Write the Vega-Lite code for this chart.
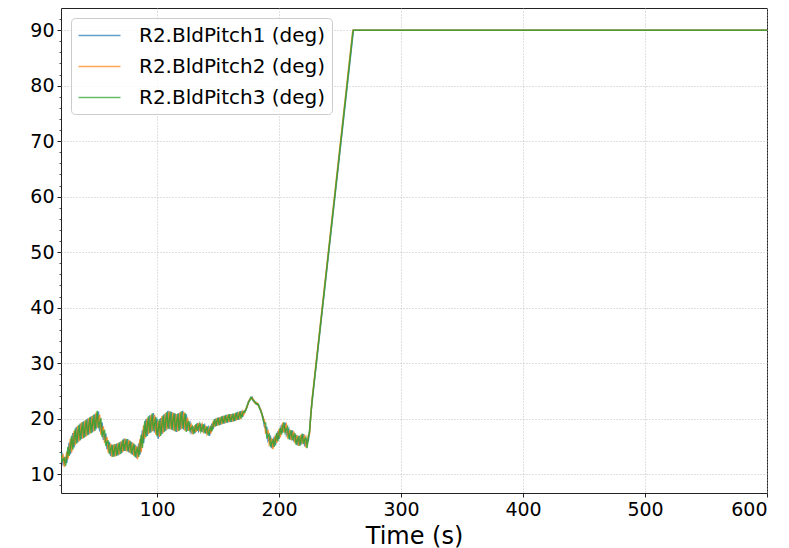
{
  "$schema": "https://vega.github.io/schema/vega-lite/v6.json",
  "width": 706,
  "height": 485,
  "autosize": {"type": "none"},
  "padding": {"left": 61, "top": 8, "right": 22, "bottom": 55},
  "background": "white",
  "config": {
    "font": "DejaVu Sans",
    "view": {"stroke": "#222222", "strokeWidth": 1},
    "axis": {
      "labelFont": "DejaVu Sans",
      "labelFontSize": 19,
      "labelColor": "#000000",
      "tickColor": "#222222",
      "tickSize": 4,
      "tickWidth": 1,
      "labelPadding": 3,
      "domain": false,
      "gridColor": "#b0b0b0",
      "gridDash": [1, 2],
      "gridWidth": 0.8
    },
    "legend": {
      "labelFont": "DejaVu Sans",
      "labelFontSize": 20,
      "labelColor": "#000000"
    }
  },
  "data": {
    "values": [
      {"t":21,"BldPitch1":13.0,"BldPitch2":12.2,"BldPitch3":13.8},
      {"t":22,"BldPitch1":13.9,"BldPitch2":13.1,"BldPitch3":12.3},
      {"t":23,"BldPitch1":11.8,"BldPitch2":13.4,"BldPitch3":12.6},
      {"t":24,"BldPitch1":12.1,"BldPitch2":11.3,"BldPitch3":12.9},
      {"t":25,"BldPitch1":13.1,"BldPitch2":12.3,"BldPitch3":11.5},
      {"t":26,"BldPitch1":12.0,"BldPitch2":14.0,"BldPitch3":13.0},
      {"t":27,"BldPitch1":13.8,"BldPitch2":12.7,"BldPitch3":14.9},
      {"t":28,"BldPitch1":15.7,"BldPitch2":14.5,"BldPitch3":13.3},
      {"t":29,"BldPitch1":13.6,"BldPitch2":16.4,"BldPitch3":15.0},
      {"t":30,"BldPitch1":15.4,"BldPitch2":13.9,"BldPitch3":16.9},
      {"t":31,"BldPitch1":17.4,"BldPitch2":15.9,"BldPitch3":14.4},
      {"t":32,"BldPitch1":14.8,"BldPitch2":17.8,"BldPitch3":16.3},
      {"t":33,"BldPitch1":16.7,"BldPitch2":15.2,"BldPitch3":18.2},
      {"t":34,"BldPitch1":18.5,"BldPitch2":17.0,"BldPitch3":15.5},
      {"t":35,"BldPitch1":15.7,"BldPitch2":18.7,"BldPitch3":17.2},
      {"t":36,"BldPitch1":17.4,"BldPitch2":15.9,"BldPitch3":18.9},
      {"t":37,"BldPitch1":19.1,"BldPitch2":17.6,"BldPitch3":16.1},
      {"t":38,"BldPitch1":16.3,"BldPitch2":19.3,"BldPitch3":17.8},
      {"t":39,"BldPitch1":17.9,"BldPitch2":16.4,"BldPitch3":19.4},
      {"t":40,"BldPitch1":19.5,"BldPitch2":18.0,"BldPitch3":16.5},
      {"t":41,"BldPitch1":16.7,"BldPitch2":19.7,"BldPitch3":18.2},
      {"t":42,"BldPitch1":18.3,"BldPitch2":16.8,"BldPitch3":19.8},
      {"t":43,"BldPitch1":20.0,"BldPitch2":18.5,"BldPitch3":17.0},
      {"t":44,"BldPitch1":17.1,"BldPitch2":20.1,"BldPitch3":18.6},
      {"t":45,"BldPitch1":18.8,"BldPitch2":17.3,"BldPitch3":20.3},
      {"t":46,"BldPitch1":20.4,"BldPitch2":18.9,"BldPitch3":17.4},
      {"t":47,"BldPitch1":17.5,"BldPitch2":20.5,"BldPitch3":19.0},
      {"t":48,"BldPitch1":19.2,"BldPitch2":17.7,"BldPitch3":20.7},
      {"t":49,"BldPitch1":20.8,"BldPitch2":19.3,"BldPitch3":17.8},
      {"t":50,"BldPitch1":18.1,"BldPitch2":21.1,"BldPitch3":19.6},
      {"t":51,"BldPitch1":19.9,"BldPitch2":18.4,"BldPitch3":21.4},
      {"t":52,"BldPitch1":21.3,"BldPitch2":19.8,"BldPitch3":18.3},
      {"t":53,"BldPitch1":17.7,"BldPitch2":20.7,"BldPitch3":19.2},
      {"t":54,"BldPitch1":18.6,"BldPitch2":17.1,"BldPitch3":20.1},
      {"t":55,"BldPitch1":19.3,"BldPitch2":18.0,"BldPitch3":16.7},
      {"t":56,"BldPitch1":16.2,"BldPitch2":18.6,"BldPitch3":17.4},
      {"t":57,"BldPitch1":16.8,"BldPitch2":15.6,"BldPitch3":18.0},
      {"t":58,"BldPitch1":17.3,"BldPitch2":16.2,"BldPitch3":15.1},
      {"t":59,"BldPitch1":14.5,"BldPitch2":16.7,"BldPitch3":15.6},
      {"t":60,"BldPitch1":15.0,"BldPitch2":13.9,"BldPitch3":16.1},
      {"t":61,"BldPitch1":15.8,"BldPitch2":14.7,"BldPitch3":13.6},
      {"t":62,"BldPitch1":13.3,"BldPitch2":15.5,"BldPitch3":14.4},
      {"t":63,"BldPitch1":14.2,"BldPitch2":13.1,"BldPitch3":15.3},
      {"t":64,"BldPitch1":15.3,"BldPitch2":14.2,"BldPitch3":13.1},
      {"t":65,"BldPitch1":13.2,"BldPitch2":15.4,"BldPitch3":14.3},
      {"t":66,"BldPitch1":14.3,"BldPitch2":13.2,"BldPitch3":15.4},
      {"t":67,"BldPitch1":15.5,"BldPitch2":14.4,"BldPitch3":13.3},
      {"t":68,"BldPitch1":13.4,"BldPitch2":15.6,"BldPitch3":14.5},
      {"t":69,"BldPitch1":14.6,"BldPitch2":13.5,"BldPitch3":15.7},
      {"t":70,"BldPitch1":15.8,"BldPitch2":14.7,"BldPitch3":13.6},
      {"t":71,"BldPitch1":13.8,"BldPitch2":16.0,"BldPitch3":14.9},
      {"t":72,"BldPitch1":15.1,"BldPitch2":14.0,"BldPitch3":16.2},
      {"t":73,"BldPitch1":16.4,"BldPitch2":15.3,"BldPitch3":14.2},
      {"t":74,"BldPitch1":14.2,"BldPitch2":16.4,"BldPitch3":15.3},
      {"t":75,"BldPitch1":15.2,"BldPitch2":14.1,"BldPitch3":16.3},
      {"t":76,"BldPitch1":16.3,"BldPitch2":15.2,"BldPitch3":14.1},
      {"t":77,"BldPitch1":13.9,"BldPitch2":16.1,"BldPitch3":15.0},
      {"t":78,"BldPitch1":14.9,"BldPitch2":13.8,"BldPitch3":16.0},
      {"t":79,"BldPitch1":15.8,"BldPitch2":14.7,"BldPitch3":13.6},
      {"t":80,"BldPitch1":13.5,"BldPitch2":15.7,"BldPitch3":14.6},
      {"t":81,"BldPitch1":14.4,"BldPitch2":13.3,"BldPitch3":15.5},
      {"t":82,"BldPitch1":15.3,"BldPitch2":14.2,"BldPitch3":13.1},
      {"t":83,"BldPitch1":12.9,"BldPitch2":15.1,"BldPitch3":14.0},
      {"t":84,"BldPitch1":13.8,"BldPitch2":12.7,"BldPitch3":14.9},
      {"t":85,"BldPitch1":15.5,"BldPitch2":14.3,"BldPitch3":13.1},
      {"t":86,"BldPitch1":13.5,"BldPitch2":16.3,"BldPitch3":14.9},
      {"t":87,"BldPitch1":15.5,"BldPitch2":13.9,"BldPitch3":17.1},
      {"t":88,"BldPitch1":17.9,"BldPitch2":16.3,"BldPitch3":14.7},
      {"t":89,"BldPitch1":15.6,"BldPitch2":18.8,"BldPitch3":17.2},
      {"t":90,"BldPitch1":18.0,"BldPitch2":16.4,"BldPitch3":19.6},
      {"t":91,"BldPitch1":19.9,"BldPitch2":18.3,"BldPitch3":16.7},
      {"t":92,"BldPitch1":16.9,"BldPitch2":20.1,"BldPitch3":18.5},
      {"t":93,"BldPitch1":18.8,"BldPitch2":17.2,"BldPitch3":20.4},
      {"t":94,"BldPitch1":20.6,"BldPitch2":19.0,"BldPitch3":17.4},
      {"t":95,"BldPitch1":17.5,"BldPitch2":20.7,"BldPitch3":19.1},
      {"t":96,"BldPitch1":19.3,"BldPitch2":17.7,"BldPitch3":20.9},
      {"t":97,"BldPitch1":21.0,"BldPitch2":19.4,"BldPitch3":17.8},
      {"t":98,"BldPitch1":17.5,"BldPitch2":20.7,"BldPitch3":19.1},
      {"t":99,"BldPitch1":18.7,"BldPitch2":17.1,"BldPitch3":20.3},
      {"t":100,"BldPitch1":20.0,"BldPitch2":18.4,"BldPitch3":16.8},
      {"t":101,"BldPitch1":16.4,"BldPitch2":19.6,"BldPitch3":18.0},
      {"t":102,"BldPitch1":18.3,"BldPitch2":16.7,"BldPitch3":19.9},
      {"t":103,"BldPitch1":20.1,"BldPitch2":18.5,"BldPitch3":16.9},
      {"t":104,"BldPitch1":17.2,"BldPitch2":20.4,"BldPitch3":18.8},
      {"t":105,"BldPitch1":19.0,"BldPitch2":17.4,"BldPitch3":20.6},
      {"t":106,"BldPitch1":20.8,"BldPitch2":19.2,"BldPitch3":17.6},
      {"t":107,"BldPitch1":17.8,"BldPitch2":21.0,"BldPitch3":19.4},
      {"t":108,"BldPitch1":19.6,"BldPitch2":18.0,"BldPitch3":21.2},
      {"t":109,"BldPitch1":21.4,"BldPitch2":19.8,"BldPitch3":18.2},
      {"t":110,"BldPitch1":18.1,"BldPitch2":21.3,"BldPitch3":19.7},
      {"t":111,"BldPitch1":19.7,"BldPitch2":18.1,"BldPitch3":21.3},
      {"t":112,"BldPitch1":21.2,"BldPitch2":19.6,"BldPitch3":18.0},
      {"t":113,"BldPitch1":17.9,"BldPitch2":21.1,"BldPitch3":19.5},
      {"t":114,"BldPitch1":19.4,"BldPitch2":17.8,"BldPitch3":21.0},
      {"t":115,"BldPitch1":20.9,"BldPitch2":19.3,"BldPitch3":17.7},
      {"t":116,"BldPitch1":17.6,"BldPitch2":20.8,"BldPitch3":19.2},
      {"t":117,"BldPitch1":19.3,"BldPitch2":17.7,"BldPitch3":20.9},
      {"t":118,"BldPitch1":21.0,"BldPitch2":19.4,"BldPitch3":17.8},
      {"t":119,"BldPitch1":18.0,"BldPitch2":21.2,"BldPitch3":19.6},
      {"t":120,"BldPitch1":19.7,"BldPitch2":18.1,"BldPitch3":21.3},
      {"t":121,"BldPitch1":21.4,"BldPitch2":19.8,"BldPitch3":18.2},
      {"t":122,"BldPitch1":18.0,"BldPitch2":21.2,"BldPitch3":19.6},
      {"t":123,"BldPitch1":19.4,"BldPitch2":17.8,"BldPitch3":21.0},
      {"t":124,"BldPitch1":20.8,"BldPitch2":19.2,"BldPitch3":17.6},
      {"t":125,"BldPitch1":17.8,"BldPitch2":20.2,"BldPitch3":19.0},
      {"t":126,"BldPitch1":18.7,"BldPitch2":17.8,"BldPitch3":19.6},
      {"t":127,"BldPitch1":19.2,"BldPitch2":18.5,"BldPitch3":17.8},
      {"t":128,"BldPitch1":17.5,"BldPitch2":18.9,"BldPitch3":18.2},
      {"t":129,"BldPitch1":17.9,"BldPitch2":17.2,"BldPitch3":18.6},
      {"t":130,"BldPitch1":18.6,"BldPitch2":17.9,"BldPitch3":17.2},
      {"t":131,"BldPitch1":17.4,"BldPitch2":18.8,"BldPitch3":18.1},
      {"t":132,"BldPitch1":18.3,"BldPitch2":17.6,"BldPitch3":19.0},
      {"t":133,"BldPitch1":19.2,"BldPitch2":18.5,"BldPitch3":17.8},
      {"t":134,"BldPitch1":17.8,"BldPitch2":19.2,"BldPitch3":18.5},
      {"t":135,"BldPitch1":18.4,"BldPitch2":17.7,"BldPitch3":19.1},
      {"t":136,"BldPitch1":19.1,"BldPitch2":18.4,"BldPitch3":17.7},
      {"t":137,"BldPitch1":17.6,"BldPitch2":19.0,"BldPitch3":18.3},
      {"t":138,"BldPitch1":18.3,"BldPitch2":17.6,"BldPitch3":19.0},
      {"t":139,"BldPitch1":18.8,"BldPitch2":18.1,"BldPitch3":17.4},
      {"t":140,"BldPitch1":17.3,"BldPitch2":18.7,"BldPitch3":18.0},
      {"t":141,"BldPitch1":17.9,"BldPitch2":17.2,"BldPitch3":18.6},
      {"t":142,"BldPitch1":18.4,"BldPitch2":17.7,"BldPitch3":17.0},
      {"t":143,"BldPitch1":16.9,"BldPitch2":18.3,"BldPitch3":17.6},
      {"t":144,"BldPitch1":18.0,"BldPitch2":17.3,"BldPitch3":18.7},
      {"t":145,"BldPitch1":19.1,"BldPitch2":18.4,"BldPitch3":17.7},
      {"t":146,"BldPitch1":18.1,"BldPitch2":19.5,"BldPitch3":18.8},
      {"t":147,"BldPitch1":19.2,"BldPitch2":18.5,"BldPitch3":19.9},
      {"t":148,"BldPitch1":20.0,"BldPitch2":19.3,"BldPitch3":18.6},
      {"t":149,"BldPitch1":18.7,"BldPitch2":20.1,"BldPitch3":19.4},
      {"t":150,"BldPitch1":19.5,"BldPitch2":18.8,"BldPitch3":20.2},
      {"t":151,"BldPitch1":20.2,"BldPitch2":19.5,"BldPitch3":18.8},
      {"t":152,"BldPitch1":18.9,"BldPitch2":20.3,"BldPitch3":19.6},
      {"t":153,"BldPitch1":19.7,"BldPitch2":19.0,"BldPitch3":20.4},
      {"t":154,"BldPitch1":20.5,"BldPitch2":19.8,"BldPitch3":19.1},
      {"t":155,"BldPitch1":19.1,"BldPitch2":20.5,"BldPitch3":19.8},
      {"t":156,"BldPitch1":19.9,"BldPitch2":19.2,"BldPitch3":20.6},
      {"t":157,"BldPitch1":20.7,"BldPitch2":20.0,"BldPitch3":19.3},
      {"t":158,"BldPitch1":19.3,"BldPitch2":20.7,"BldPitch3":20.0},
      {"t":159,"BldPitch1":20.1,"BldPitch2":19.4,"BldPitch3":20.8},
      {"t":160,"BldPitch1":20.8,"BldPitch2":20.1,"BldPitch3":19.4},
      {"t":161,"BldPitch1":19.4,"BldPitch2":20.8,"BldPitch3":20.1},
      {"t":162,"BldPitch1":20.2,"BldPitch2":19.5,"BldPitch3":20.9},
      {"t":163,"BldPitch1":20.9,"BldPitch2":20.2,"BldPitch3":19.5},
      {"t":164,"BldPitch1":19.6,"BldPitch2":21.0,"BldPitch3":20.3},
      {"t":165,"BldPitch1":20.4,"BldPitch2":19.7,"BldPitch3":21.1},
      {"t":166,"BldPitch1":21.2,"BldPitch2":20.5,"BldPitch3":19.8},
      {"t":167,"BldPitch1":19.8,"BldPitch2":21.2,"BldPitch3":20.5},
      {"t":168,"BldPitch1":20.6,"BldPitch2":19.9,"BldPitch3":21.3},
      {"t":169,"BldPitch1":21.4,"BldPitch2":20.7,"BldPitch3":20.0},
      {"t":170,"BldPitch1":20.3,"BldPitch2":21.3,"BldPitch3":20.8},
      {"t":171,"BldPitch1":21.0,"BldPitch2":20.7,"BldPitch3":21.3},
      {"t":172,"BldPitch1":21.45,"BldPitch2":21.3,"BldPitch3":21.15},
      {"t":173,"BldPitch1":21.55,"BldPitch2":21.85,"BldPitch3":21.7},
      {"t":174,"BldPitch1":22.3,"BldPitch2":22.15,"BldPitch3":22.45},
      {"t":175,"BldPitch1":23.15,"BldPitch2":23.0,"BldPitch3":22.85},
      {"t":176,"BldPitch1":23.25,"BldPitch2":23.55,"BldPitch3":23.4},
      {"t":177,"BldPitch1":23.7,"BldPitch2":23.55,"BldPitch3":23.85},
      {"t":178,"BldPitch1":23.85,"BldPitch2":23.7,"BldPitch3":23.55},
      {"t":179,"BldPitch1":23.15,"BldPitch2":23.45,"BldPitch3":23.3},
      {"t":180,"BldPitch1":23.0,"BldPitch2":22.85,"BldPitch3":23.15},
      {"t":181,"BldPitch1":22.95,"BldPitch2":22.8,"BldPitch3":22.65},
      {"t":182,"BldPitch1":22.55,"BldPitch2":22.85,"BldPitch3":22.7},
      {"t":183,"BldPitch1":22.5,"BldPitch2":22.35,"BldPitch3":22.65},
      {"t":184,"BldPitch1":22.15,"BldPitch2":22.0,"BldPitch3":21.85},
      {"t":185,"BldPitch1":21.35,"BldPitch2":21.65,"BldPitch3":21.5},
      {"t":186,"BldPitch1":20.8,"BldPitch2":20.65,"BldPitch3":20.95},
      {"t":187,"BldPitch1":20.3,"BldPitch2":20.0,"BldPitch3":19.7},
      {"t":188,"BldPitch1":18.6,"BldPitch2":19.8,"BldPitch3":19.2},
      {"t":189,"BldPitch1":18.3,"BldPitch2":17.4,"BldPitch3":19.2},
      {"t":190,"BldPitch1":18.4,"BldPitch2":17.5,"BldPitch3":16.6},
      {"t":191,"BldPitch1":16.0,"BldPitch2":17.8,"BldPitch3":16.9},
      {"t":192,"BldPitch1":16.3,"BldPitch2":15.4,"BldPitch3":17.2},
      {"t":193,"BldPitch1":16.7,"BldPitch2":15.8,"BldPitch3":14.9},
      {"t":194,"BldPitch1":14.7,"BldPitch2":16.5,"BldPitch3":15.6},
      {"t":195,"BldPitch1":15.4,"BldPitch2":14.5,"BldPitch3":16.3},
      {"t":196,"BldPitch1":16.7,"BldPitch2":15.8,"BldPitch3":14.9},
      {"t":197,"BldPitch1":15.2,"BldPitch2":17.0,"BldPitch3":16.1},
      {"t":198,"BldPitch1":16.5,"BldPitch2":15.6,"BldPitch3":17.4},
      {"t":199,"BldPitch1":17.7,"BldPitch2":16.8,"BldPitch3":15.9},
      {"t":200,"BldPitch1":16.3,"BldPitch2":18.1,"BldPitch3":17.2},
      {"t":201,"BldPitch1":17.5,"BldPitch2":16.6,"BldPitch3":18.4},
      {"t":202,"BldPitch1":18.9,"BldPitch2":18.0,"BldPitch3":17.1},
      {"t":203,"BldPitch1":17.5,"BldPitch2":19.3,"BldPitch3":18.4},
      {"t":204,"BldPitch1":18.4,"BldPitch2":17.5,"BldPitch3":19.3},
      {"t":205,"BldPitch1":19.3,"BldPitch2":18.4,"BldPitch3":17.5},
      {"t":206,"BldPitch1":17.1,"BldPitch2":18.9,"BldPitch3":18.0},
      {"t":207,"BldPitch1":17.6,"BldPitch2":16.7,"BldPitch3":18.5},
      {"t":208,"BldPitch1":18.1,"BldPitch2":17.2,"BldPitch3":16.3},
      {"t":209,"BldPitch1":16.2,"BldPitch2":18.0,"BldPitch3":17.1},
      {"t":210,"BldPitch1":17.0,"BldPitch2":16.1,"BldPitch3":17.9},
      {"t":211,"BldPitch1":17.9,"BldPitch2":17.0,"BldPitch3":16.1},
      {"t":212,"BldPitch1":15.9,"BldPitch2":17.7,"BldPitch3":16.8},
      {"t":213,"BldPitch1":16.5,"BldPitch2":15.6,"BldPitch3":17.4},
      {"t":214,"BldPitch1":17.1,"BldPitch2":16.2,"BldPitch3":15.3},
      {"t":215,"BldPitch1":15.2,"BldPitch2":17.0,"BldPitch3":16.1},
      {"t":216,"BldPitch1":16.0,"BldPitch2":15.1,"BldPitch3":16.9},
      {"t":217,"BldPitch1":16.9,"BldPitch2":16.0,"BldPitch3":15.1},
      {"t":218,"BldPitch1":15.3,"BldPitch2":17.1,"BldPitch3":16.2},
      {"t":219,"BldPitch1":16.4,"BldPitch2":15.5,"BldPitch3":17.3},
      {"t":220,"BldPitch1":17.2,"BldPitch2":16.3,"BldPitch3":15.4},
      {"t":221,"BldPitch1":15.3,"BldPitch2":17.1,"BldPitch3":16.2},
      {"t":222,"BldPitch1":15.7,"BldPitch2":14.8,"BldPitch3":16.6},
      {"t":223,"BldPitch1":16.3,"BldPitch2":15.5,"BldPitch3":14.7},
      {"t":224,"BldPitch1":16.0,"BldPitch2":17.0,"BldPitch3":16.5},
      {"t":225,"BldPitch1":17.5,"BldPitch2":17.2,"BldPitch3":17.8},
      {"t":226,"BldPitch1":20.7,"BldPitch2":20.5,"BldPitch3":20.3},
      {"t":227,"BldPitch1":22.8,"BldPitch2":23.3,"BldPitch3":23.0},
      {"t":260.5,"BldPitch1":89.0,"BldPitch2":90.0,"BldPitch3":89.5},
      {"t":261,"BldPitch1":90.0,"BldPitch2":90.0,"BldPitch3":90.0},
      {"t":600,"BldPitch1":90.0,"BldPitch2":90.0,"BldPitch3":90.0}
    ]
  },
  "transform": [
    {"fold": ["BldPitch1", "BldPitch2", "BldPitch3"], "as": ["series", "value"]}
  ],
  "layer": [
    {
      "mark": {"type": "line", "strokeWidth": 1.5, "opacity": 0.8, "clip": true},
      "encoding": {
        "x": {
          "field": "t",
          "type": "quantitative",
          "scale": {"domain": [21.3, 600], "nice": false, "zero": false},
          "axis": {
            "values": [100, 200, 300, 400, 500, 600],
            "title": "Time (s)",
            "titleFont": "DejaVu Sans",
            "titleFontSize": 24,
            "titleFontWeight": "normal",
            "titleColor": "#000000",
            "titlePadding": 5,
            "grid": true
          }
        },
        "y": {
          "field": "value",
          "type": "quantitative",
          "scale": {"domain": [6.6, 94], "nice": false, "zero": false},
          "axis": {
            "values": [10, 20, 30, 40, 50, 60, 70, 80, 90],
            "title": null,
            "grid": true
          }
        },
        "color": {
          "field": "series",
          "type": "nominal",
          "scale": {
            "domain": ["BldPitch1", "BldPitch2", "BldPitch3"],
            "range": ["#1f77b4", "#ff7f0e", "#2ca02c"]
          },
          "legend": {
            "title": null,
            "orient": "top-left",
            "offset": 10,
            "labelExpr": "'R2.' + datum.label + ' (deg)'",
            "labelLimit": 400,
            "symbolType": "M-2,0H2",
            "symbolSize": 441,
            "symbolOffset": 11,
            "symbolStrokeWidth": 1.5,
            "symbolOpacity": 0.7,
            "labelOffset": 28,
            "rowPadding": 9,
            "padding": 6,
            "fillColor": "rgba(255,255,255,0.8)",
            "strokeColor": "#cccccc",
            "cornerRadius": 4
          }
        }
      }
    },
    {
      "mark": {"type": "line", "opacity": 0},
      "encoding": {
        "x": {"field": "t", "type": "quantitative"},
        "y": {
          "field": "value",
          "type": "quantitative",
          "axis": {
            "orient": "left",
            "values": [8, 12, 14, 16, 18, 22, 24, 26, 28, 32, 34, 36, 38, 42, 44, 46, 48, 52, 54, 56, 58, 62, 64, 66, 68, 72, 74, 76, 78, 82, 84, 86, 88, 92],
            "labels": false,
            "grid": false,
            "tickSize": 2,
            "tickWidth": 0.8,
            "title": null
          }
        },
        "detail": {"field": "series", "type": "nominal"}
      }
    }
  ],
  "resolve": {"axis": {"y": "independent"}}
}
